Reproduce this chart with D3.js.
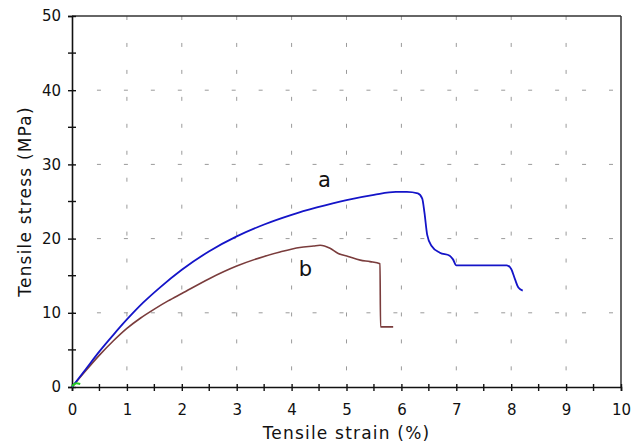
<!DOCTYPE html>
<html>
<head>
<meta charset="utf-8">
<script src="https://cdn.jsdelivr.net/npm/d3@7"></script>
<style>
  body { margin: 0; background: #fff; }
  svg { display: block; }
  text { font-family: "DejaVu Sans", Verdana, sans-serif; fill: #111; }
</style>
</head>
<body>
<div id="chart"></div>
<script>
"use strict";

// curve a (blue)
const strainA = [0, 0.25, 0.5, 0.75, 1, 1.3, 1.6, 2, 2.5, 3, 3.5, 4, 4.46, 5, 5.5, 5.9, 6.1, 6.3,
                 6.38, 6.42, 6.47, 6.55, 6.7, 6.88, 6.94, 7.0, 7.2, 7.5, 7.92, 8.0, 8.07, 8.13, 8.21];
const stressA = [0, 2.4, 4.8, 7.0, 9.1, 11.4, 13.4, 15.8, 18.3, 20.3, 21.9, 23.2, 24.2, 25.2, 25.9, 26.3, 26.3, 26.1,
                 25.4, 23.5, 20.5, 19.0, 18.1, 17.7, 17.2, 16.4, 16.4, 16.4, 16.4, 15.9, 14.5, 13.4, 13.0];

// curve b (brown)
const strainB = [0, 0.25, 0.5, 0.75, 1, 1.25, 1.5, 1.75, 2, 2.5, 3, 3.5, 3.79, 4.15, 4.4, 4.52, 4.7, 4.85, 5.03, 5.25, 5.43, 5.61, 5.62, 5.85];
const stressB = [0, 2.2, 4.3, 6.2, 7.9, 9.3, 10.5, 11.6, 12.6, 14.6, 16.3, 17.6, 18.2, 18.8, 19.0, 19.1, 18.7, 18.0, 17.6, 17.1, 16.9, 16.6, 8.1, 8.1];

// small green trace at the origin
const strainC = [0, 0.08, 0.15];
const stressC = [0.1, 0.5, 0.4];

const xTicks = [0, 1, 2, 3, 4, 5, 6, 7, 8, 9, 10];
const yTicks = [0, 10, 20, 30, 40, 50];
const xMinor = [0.5, 1.5, 2.5, 3.5, 4.5, 5.5, 6.5, 7.5, 8.5, 9.5];
const yMinor = [5, 15, 25, 35, 45];
const gridX = [1, 2, 3, 4, 5, 6, 7, 8, 9];
const gridY = [10, 20, 30, 40];

const labels = [{text: "a", x: 4.6, y: 27.0}, {text: "b", x: 4.25, y: 14.9}];

const W = 642, H = 446;
const margin = {top: 16, right: 21, bottom: 59, left: 72};
const width = W - margin.left - margin.right;
const height = H - margin.top - margin.bottom;

const svg = d3.select("#chart").append("svg")
  .attr("width", W).attr("height", H)
  .attr("viewBox", `0 0 ${W} ${H}`);

const g = svg.append("g").attr("transform", `translate(${margin.left},${margin.top})`);

const x = d3.scaleLinear().domain([0, 10]).range([0, width]);
const y = d3.scaleLinear().domain([0, 50]).range([height, 0]);

const period = x(0.5) - x(0) - 0.5;

// grid
g.append("g").selectAll("line").data(gridX).enter().append("line")
  .attr("x1", d => x(d)).attr("x2", d => x(d))
  .attr("y1", 0).attr("y2", height)
  .attr("stroke", "#9a9a9a").attr("stroke-width", 1)
  .attr("stroke-dasharray", `4 ${period - 4}`);

g.append("g").selectAll("line").data(gridY).enter().append("line")
  .attr("x1", 0).attr("x2", width)
  .attr("y1", d => y(d)).attr("y2", d => y(d))
  .attr("stroke", "#9a9a9a").attr("stroke-width", 1)
  .attr("stroke-dasharray", `4 ${period - 4}`)
  .attr("stroke-dashoffset", 2);

// frame top / right
g.append("line").attr("x1", 0).attr("x2", width).attr("y1", 0).attr("y2", 0)
  .attr("stroke", "#333").attr("stroke-width", 1.5);
g.append("line").attr("x1", width).attr("x2", width).attr("y1", 0).attr("y2", height)
  .attr("stroke", "#333").attr("stroke-width", 1.5);

// axes
const xAxis = g.append("g").attr("transform", `translate(0,${height})`)
  .call(d3.axisBottom(x).tickValues(xTicks).tickSize(4).tickPadding(13).tickFormat(d3.format("d")));
const yAxis = g.append("g")
  .call(d3.axisLeft(y).tickValues(yTicks).tickSize(4).tickPadding(7).tickFormat(d3.format("d")));

[xAxis, yAxis].forEach(a => {
  a.select(".domain").attr("stroke", "#111").attr("stroke-width", 1.6);
  a.selectAll(".tick line").attr("stroke", "#111").attr("stroke-width", 1.4);
  a.selectAll(".tick text").attr("font-size", 15).attr("fill", "#111")
    .attr("font-family", "DejaVu Sans, Verdana, sans-serif");
});
xAxis.selectAll(".tick line").attr("y1", -3);
yAxis.selectAll(".tick line").attr("x1", 4);

// minor ticks
g.append("g").selectAll("line").data(xMinor).enter().append("line")
  .attr("x1", d => x(d)).attr("x2", d => x(d))
  .attr("y1", height - 3).attr("y2", height + 4)
  .attr("stroke", "#111").attr("stroke-width", 1.4);
g.append("g").selectAll("line").data(yMinor).enter().append("line")
  .attr("x1", -4).attr("x2", 4)
  .attr("y1", d => y(d)).attr("y2", d => y(d))
  .attr("stroke", "#111").attr("stroke-width", 1.4);

// curves
const line = d3.line().x(d => x(d[0])).y(d => y(d[1])).curve(d3.curveMonotoneX);
const zip = (a, b) => a.map((v, i) => [v, b[i]]);

g.append("path").datum(zip(strainB, stressB)).attr("d", line)
  .attr("fill", "none").attr("stroke", "#7a3c3c").attr("stroke-width", 1.6);
g.append("path").datum(zip(strainA, stressA)).attr("d", line)
  .attr("fill", "none").attr("stroke", "#1414c8").attr("stroke-width", 1.8);
g.append("path").datum(zip(strainC, stressC)).attr("d", line)
  .attr("fill", "none").attr("stroke", "#22cc22").attr("stroke-width", 2);

// curve labels
g.selectAll(".lbl").data(labels).enter().append("text")
  .attr("class", "lbl")
  .attr("x", d => x(d.x)).attr("y", d => y(d.y))
  .attr("text-anchor", "middle")
  .attr("font-size", 21)
  .attr("fill", "#1a1a2a")
  .text(d => d.text);

// axis titles
svg.append("text")
  .attr("x", margin.left + width / 2).attr("y", 439)
  .attr("text-anchor", "middle").attr("font-size", 17)
  .attr("letter-spacing", 1.2)
  .text("Tensile strain (%)");
svg.append("text")
  .attr("transform", `translate(31,${margin.top + height / 2}) rotate(-90)`)
  .attr("text-anchor", "middle").attr("font-size", 17)
  .attr("letter-spacing", 1.2)
  .text("Tensile stress (MPa)");
</script>
</body>
</html>
